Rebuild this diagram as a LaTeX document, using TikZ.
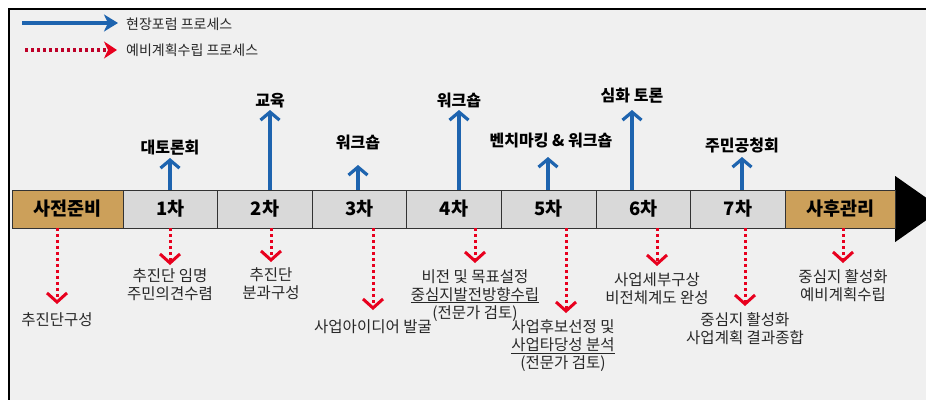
\documentclass[tikz,border=0pt]{standalone}
\usepackage{fontspec}
\setmainfont{Noto Sans CJK KR}
\usetikzlibrary{arrows.meta, positioning}
\definecolor{forumblue}{RGB}{30,100,175}
\definecolor{planred}{RGB}{232,0,30}
\definecolor{dotred}{RGB}{190,0,40}
\definecolor{stagetan}{RGB}{204,160,90}
\definecolor{stagegray}{RGB}{217,217,217}
\definecolor{panelbg}{RGB}{240,240,240}
\definecolor{txtgray}{RGB}{40,40,40}

\begin{document}
\begin{tikzpicture}[x=1pt, y=-1pt,
  stage/.style={draw=black!80, line width=0.8pt, fill=stagegray, minimum width=94.6pt,
    minimum height=38pt, inner sep=0pt, outer sep=0pt, font=\fontsize{18.5}{20}\selectfont\bfseries},
  prep/.style={stage, fill=stagetan},
  topnote/.style={inner sep=0pt, font=\fontsize{16}{18}\selectfont\bfseries},
  subnote/.style={inner sep=0pt, align=center, text=txtgray, font=\fontsize{15.5}{18}\selectfont},
  legtext/.style={inner sep=0pt, anchor=west, text=txtgray, font=\fontsize{14}{17}\selectfont},
  forum/.style={forumblue, line width=3.2pt, -{Straight Barb[length=8pt, width=19pt]}},
  plan/.style={planred, line width=3pt, dash pattern=on 3pt off 3pt, -{Straight Barb[length=9pt, width=20pt]}}]
  \useasboundingbox (0,0) rectangle (926,399);
  \clip (0,0) rectangle (926,399);
  % panel
  \fill[white] (0,0) rectangle (926,399);
  \fill[panelbg] (9,9) rectangle (930,405);
  \draw[line width=2.2pt] (9,405) -- (9,9) -- (930,9);

  % legend
  \node[legtext] (lg1) at (126,24) {현장포럼 프로세스};
  \node[legtext] (lg2) at (126,50) {예비계획수립 프로세스};
  \coordinate (lg1s) at (22,23);
  \coordinate (lg2s) at (25,50);
  \draw[forumblue, line width=4pt, shorten >=8pt, -{Stealth[length=14pt, width=17pt, inset=4pt]}] (lg1s) -- (lg1s -| lg1.west);
  \draw[dotred, line width=3.5pt, dash pattern=on 3pt off 3pt, shorten >=9pt,
    -{Stealth[length=13pt, width=17pt, inset=4pt, color=planred]}] (lg2s) -- (lg2s -| lg2.west);

  % time line
  \node[prep, minimum width=111pt, anchor=north west] (s0) at (12,190) {사전준비};
  \node[stage, right=0pt of s0] (s1) {1차};
  \node[stage, right=0pt of s1] (s2) {2차};
  \node[stage, right=0pt of s2] (s3) {3차};
  \node[stage, right=0pt of s3] (s4) {4차};
  \node[stage, right=0pt of s4] (s5) {5차};
  \node[stage, right=0pt of s5] (s6) {6차};
  \node[stage, right=0pt of s6] (s7) {7차};
  \fill[black] (s7.east) ++(110,-33) -- ++(47,33) -- ++(-47,33) -- cycle;
  \node[prep, minimum width=110pt, right=0pt of s7] (s8) {사후관리};

  % forum steps (up)
  \coordinate (e1) at (170,158);
  \coordinate (e2) at (270,110);
  \coordinate (e3) at (358,165);
  \coordinate (e4) at (459,110);
  \coordinate (e5) at (548,157);
  \coordinate (e6) at (632,110);
  \coordinate (e7) at (742,157);
  \node[topnote, above=3pt of e1] (t1) {대토론회};
  \node[topnote, above=2pt of e2] (t2) {교육};
  \node[topnote, above=15pt of e3] (t3) {워크숍};
  \node[topnote, above=2pt of e4] (t4) {워크숍};
  \node[topnote, above=9pt of e5, xshift=3pt] (t5) {벤치마킹 \& 워크숍};
  \node[topnote, above=7pt of e6] (t6) {심화 토론};
  \node[topnote, above=4pt of e7] (t7) {주민공청회};
  \draw[forum] (s1.north -| e1) -- (e1);
  \draw[forum] (s2.north -| e2) -- (e2);
  \draw[forum] (s3.north -| e3) -- (e3);
  \draw[forum] (s4.north -| e4) -- (e4);
  \draw[forum] (s5.north -| e5) -- (e5);
  \draw[forum] (s6.north -| e6) -- (e6);
  \draw[forum] (s7.north -| e7) -- (e7);

  % planning steps (down)
  \coordinate (f0) at (57,304);
  \coordinate (f1) at (170,265);
  \coordinate (f2) at (271,262);
  \coordinate (f3) at (373,310);
  \coordinate (f4) at (475,263);
  \coordinate (f5) at (566,313);
  \coordinate (f6) at (657,266);
  \coordinate (f7) at (745,306);
  \coordinate (f8) at (843,263);
  \node[subnote, below=8pt of f0] (d0) {추진단구성};
  \node[subnote, below=3pt of f1] (d1) {추진단 임명\\주민의견수렴};
  \node[subnote, below=5pt of f2] (d2) {추진단\\분과구성};
  \node[subnote, below=9pt of f3] (d3) {사업아이디어 발굴};
  \node[subnote, below=6pt of f4] (d4) {비전 및 목표설정\\\underline{중심지발전방향수립}\\(전문가 검토)};
  \node[subnote, below=6pt of f5, xshift=-3pt] (d5) {사업후보선정 및\\\underline{사업타당성 분석}\\(전문가 검토)};
  \node[subnote, below=6pt of f6] (d6) {사업세부구상\\비전체계도 완성};
  \node[subnote, below=6pt of f7] (d7) {중심지 활성화\\사업계획 결과종합};
  \node[subnote, below=6pt of f8] (d8) {중심지 활성화\\예비계획수립};
  \draw[plan] (s0.south -| f0) -- (f0);
  \draw[plan] (s1.south -| f1) -- (f1);
  \draw[plan] (s2.south -| f2) -- (f2);
  \draw[plan] (s3.south -| f3) -- (f3);
  \draw[plan] (s4.south -| f4) -- (f4);
  \draw[plan] (s5.south -| f5) -- (f5);
  \draw[plan] (s6.south -| f6) -- (f6);
  \draw[plan] (s7.south -| f7) -- (f7);
  \draw[plan] (s8.south -| f8) -- (f8);
\end{tikzpicture}
\end{document}
